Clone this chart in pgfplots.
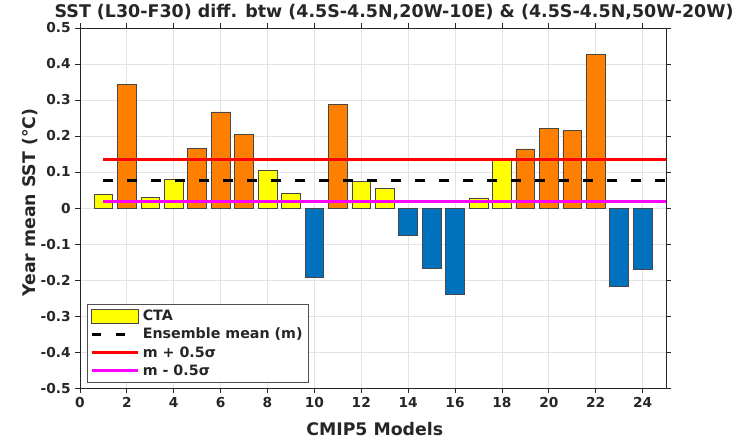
\documentclass[border=0pt]{standalone}
\usepackage{fontspec}
\setmainfont{DejaVu Sans}
\usepackage{pgfplots}
\pgfplotsset{compat=1.18}
\definecolor{txt}{HTML}{262626}
\definecolor{myyellow}{rgb}{1,1,0}
\definecolor{myorange}{rgb}{1,0.5,0}
\definecolor{myblue}{rgb}{0,0.447,0.741}
\definecolor{mymag}{rgb}{1,0,1}
\definecolor{gridc}{HTML}{E3E3E3}
\begin{document}
\begin{tikzpicture}
\begin{axis}[
  scale only axis, width=439.5pt, height=270pt,
  xmin=0, xmax=25, ymin=-0.5, ymax=0.5,
  xtick={0,2,4,6,8,10,12,14,16,18,20,22,24},
  ytick={-0.5,-0.4,-0.3,-0.2,-0.1,0,0.1,0.2,0.3,0.4,0.5},
  yticklabels={-0.5,-0.4,-0.3,-0.2,-0.1,0,0.1,0.2,0.3,0.4,0.5},
  grid=major, grid style={gridc, line width=0.6pt},
  tick align=outside, tick pos=both, major tick length=3.5pt,
  axis line style={txt, line width=0.6pt}, major tick style={txt, line width=0.6pt},
  ticklabel style={font=\bfseries\fontsize{10.3}{12}\selectfont, text=txt},
  /pgf/number format/assume math mode=true,
  xlabel={CMIP5 Models},
  ylabel={Year mean SST (°C)},
  label style={font=\bfseries\fontsize{13}{15}\selectfont, text=txt},
  xlabel style={at={(axis description cs:0.503,0)}, anchor=base, yshift=-35.25pt},
  ylabel style={at={(axis description cs:0,0.515)}, anchor=center, yshift=37.5pt},
  every axis title shift=0pt,
  title={SST (L30-F30) diff. btw (4.5S-4.5N,20W-10E) \& (4.5S-4.5N,50W-20W)},
  title style={at={(axis description cs:0.536,1)}, anchor=base, yshift=7.5pt,
    font=\bfseries\fontsize{13.1}{15}\selectfont, text=txt},
  legend style={at={(axis description cs:0.012,0.014)}, anchor=south west,
    draw=txt!80, line width=0.6pt, fill=white, font=\bfseries\fontsize{10.7}{13}\selectfont,
    text=txt, row sep=0.2pt, inner sep=2pt},
  legend cell align=left,
]
% yellow bars (CTA)
\addplot[ybar, bar width=0.8, bar shift=0pt, fill=myyellow, draw=txt!85, line width=0.5pt,
  area legend,
  legend image code/.code={\draw[fill=myyellow, draw=txt!85, line width=0.5pt] (0pt,-5.25pt) rectangle (35pt,5.25pt);}]
  coordinates {(1,0.038) (3,0.029) (4,0.081) (8,0.105) (9,0.040) (12,0.075) (13,0.054) (17,0.028) (18,0.132)};
\addlegendentry{CTA}
% orange bars
\addplot[ybar, bar width=0.8, bar shift=0pt, fill=myorange, draw=txt!85, line width=0.5pt, forget plot]
  coordinates {(2,0.344) (5,0.165) (6,0.267) (7,0.204) (11,0.287) (19,0.164) (20,0.221) (21,0.215) (22,0.427)};
% blue bars
\addplot[ybar, bar width=0.8, bar shift=0pt, fill=myblue, draw=txt!85, line width=0.5pt, forget plot]
  coordinates {(10,-0.192) (14,-0.077) (15,-0.168) (16,-0.241) (23,-0.217) (24,-0.169)};
% lines
\addplot[black, line width=2.5pt, dash pattern=on 7pt off 11pt,
  legend image code/.code={\draw[black, line width=2.5pt, dash pattern=on 7pt off 11pt] (0pt,0pt) -- (35pt,0pt);}]
  coordinates {(1,0.076) (25,0.076)};
\addlegendentry{Ensemble mean (m)}
\addplot[red, line width=2.2pt,
  legend image code/.code={\draw[red, line width=2.2pt] (0pt,0pt) -- (35pt,0pt);}]
  coordinates {(1,0.134) (25,0.134)};
\addlegendentry{m + 0.5σ}
\addplot[mymag, line width=2.2pt,
  legend image code/.code={\draw[mymag, line width=2.2pt] (0pt,0pt) -- (35pt,0pt);}]
  coordinates {(1,0.017) (25,0.017)};
\addlegendentry{m - 0.5σ}
\end{axis}
\path ([xshift=-60pt,yshift=-39pt]current axis.south west) rectangle ([xshift=56.25pt,yshift=21pt]current axis.north east);
\end{tikzpicture}
\end{document}
